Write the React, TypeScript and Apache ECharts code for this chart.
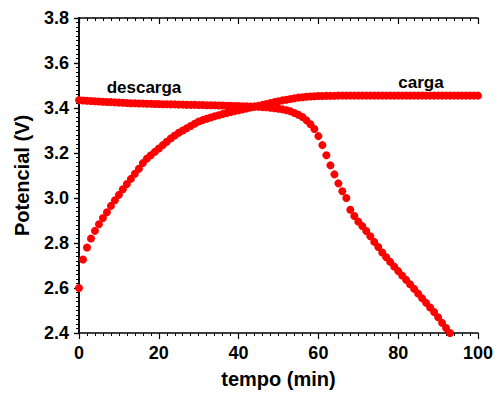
import React, { useEffect, useRef } from "react";
import * as echarts from "echarts";

const xTicks = [0, 20, 40, 60, 80, 100];
const yTicks = [2.4, 2.6, 2.8, 3.0, 3.2, 3.4, 3.6, 3.8];

// carga (charge) curve, one point per minute, t = 0..100
const cargaTime: number[] = [
  0, 1, 2, 3, 4, 5, 6, 7, 8, 9, 10, 11, 12, 13, 14, 15, 16, 17, 18, 19, 20,
  21, 22, 23, 24, 25, 26, 27, 28, 29, 30, 31, 32, 33, 34, 35, 36, 37, 38, 39, 40,
  41, 42, 43, 44, 45, 46, 47, 48, 49, 50, 51, 52, 53, 54, 55, 56, 57, 58, 59, 60,
  61, 62, 63, 64, 65, 66, 67, 68, 69, 70, 71, 72, 73, 74, 75, 76, 77, 78, 79, 80,
  81, 82, 83, 84, 85, 86, 87, 88, 89, 90, 91, 92, 93, 94, 95, 96, 97, 98, 99, 100,
];
const cargaV: number[] = [
  2.6, 2.727, 2.78, 2.82, 2.854, 2.883, 2.911, 2.937, 2.965, 2.99, 3.014,
  3.039, 3.062, 3.085, 3.108, 3.13, 3.155, 3.175, 3.19, 3.205, 3.22,
  3.235, 3.25, 3.265, 3.278, 3.29, 3.3, 3.31, 3.32, 3.33, 3.34,
  3.346, 3.352, 3.358, 3.363, 3.368, 3.373, 3.378, 3.382, 3.386, 3.39,
  3.394, 3.398, 3.402, 3.406, 3.41, 3.414, 3.418, 3.422, 3.426, 3.43,
  3.434, 3.437, 3.44, 3.443, 3.446, 3.448, 3.45, 3.451, 3.452, 3.453,
  3.453, 3.454, 3.454, 3.454, 3.455, 3.455, 3.455, 3.455, 3.455, 3.455,
  3.455, 3.455, 3.455, 3.455, 3.455, 3.455, 3.455, 3.455, 3.455, 3.455,
  3.455, 3.455, 3.455, 3.455, 3.455, 3.455, 3.455, 3.455, 3.455, 3.455,
  3.455, 3.455, 3.455, 3.455, 3.455, 3.455, 3.455, 3.455, 3.455, 3.455,
];

// descarga (discharge) curve, one point per minute, t = 0..93
const descargaTime: number[] = [
  0, 1, 2, 3, 4, 5, 6, 7, 8, 9, 10, 11, 12, 13, 14, 15, 16, 17, 18, 19, 20,
  21, 22, 23, 24, 25, 26, 27, 28, 29, 30, 31, 32, 33, 34, 35, 36, 37, 38, 39, 40,
  41, 42, 43, 44, 45, 46, 47, 48, 49, 50, 51, 52, 53, 54, 55, 56, 57, 58, 59, 60,
  61, 62, 63, 64, 65, 66, 67, 68, 69, 70, 71, 72, 73, 74, 75, 76, 77, 78, 79, 80,
  81, 82, 83, 84, 85, 86, 87, 88, 89, 90, 91, 92, 93,
];
const descargaV: number[] = [
  3.435, 3.433, 3.432, 3.431, 3.43, 3.429, 3.428, 3.427, 3.426, 3.425, 3.424,
  3.423, 3.422, 3.421, 3.421, 3.42, 3.42, 3.419, 3.419, 3.418, 3.418,
  3.417, 3.417, 3.416, 3.416, 3.415, 3.415, 3.414, 3.414, 3.414, 3.413,
  3.413, 3.412, 3.412, 3.412, 3.411, 3.411, 3.41, 3.41, 3.409, 3.409,
  3.408, 3.408, 3.407, 3.406, 3.405, 3.404, 3.403, 3.401, 3.399, 3.397,
  3.394, 3.39, 3.385, 3.378, 3.37, 3.36, 3.345, 3.328, 3.307, 3.275,
  3.235, 3.19, 3.145, 3.105, 3.065, 3.03, 3.0, 2.948, 2.92, 2.895,
  2.875, 2.853, 2.83, 2.805, 2.782, 2.758, 2.737, 2.716, 2.695, 2.675,
  2.655, 2.636, 2.616, 2.596, 2.575, 2.554, 2.534, 2.513, 2.493, 2.47,
  2.445, 2.422, 2.4,
];

const FONT = 'Arial, "Liberation Sans", sans-serif';

export default function App() {
  const ref = useRef<HTMLDivElement>(null);
  useEffect(() => {
    if (!ref.current) return;
    const chart = echarts.init(ref.current, undefined, { renderer: "svg" });
    const xMin = xTicks[0];
    const xMax = xTicks[xTicks.length - 1];
    const xInt = xTicks[1] - xTicks[0];
    const yMin = yTicks[0];
    const yMax = yTicks[yTicks.length - 1];
    const yInt = 0.2;
    const lineStyle = { color: "#000", width: 1.5 };
    const baseX = {
      type: "value" as const,
      min: xMin,
      max: xMax,
      interval: xInt,
      splitLine: { show: false },
      axisLine: { show: true, lineStyle },
      minorTick: { show: true, splitNumber: 10, length: 3, lineStyle: { color: "#000", width: 1 } },
      minorSplitLine: { show: false },
    };
    const baseY = {
      type: "value" as const,
      min: yMin,
      max: yMax,
      interval: yInt,
      splitLine: { show: false },
      axisLine: { show: true, lineStyle },
      minorTick: { show: true, splitNumber: 10, length: 3, lineStyle: { color: "#000", width: 1 } },
      minorSplitLine: { show: false },
    };
    chart.setOption({
      animation: false,
      backgroundColor: "#fff",
      grid: { left: 79, right: 18, top: 18, bottom: 55, containLabel: false },
      xAxis: [
        {
          ...baseX,
          position: "bottom",
          name: "tempo (min)",
          nameLocation: "middle",
          nameGap: 36,
          nameTextStyle: { fontFamily: FONT, fontWeight: "bold", fontSize: 20, color: "#000" },
          axisTick: { show: true, inside: false, length: 6, lineStyle: { color: "#000", width: 1.2 } },
          axisLabel: {
            show: true,
            margin: 11,
            fontFamily: FONT,
            fontWeight: "bold",
            fontSize: 18,
            color: "#000",
            formatter: (v: number) => String(v),
          },
        },
        {
          ...baseX,
          position: "top",
          axisTick: { show: true, inside: true, length: 6, lineStyle: { color: "#000", width: 1.2 } },
          axisLabel: { show: false },
        },
      ],
      yAxis: [
        {
          ...baseY,
          position: "left",
          name: "Potencial (V)",
          nameLocation: "middle",
          nameGap: 47,
          nameRotate: 90,
          nameTextStyle: { fontFamily: FONT, fontWeight: "bold", fontSize: 20, color: "#000" },
          axisTick: { show: true, inside: false, length: 5, lineStyle: { color: "#000", width: 1.2 } },
          axisLabel: {
            show: true,
            margin: 10,
            fontFamily: FONT,
            fontWeight: "bold",
            fontSize: 18,
            color: "#000",
            formatter: (v: number) => v.toFixed(1),
          },
        },
        {
          ...baseY,
          position: "right",
          axisTick: { show: true, inside: true, length: 5, lineStyle: { color: "#000", width: 1.2 } },
          axisLabel: { show: false },
        },
      ],
      graphic: [
        {
          type: "text",
          x: 144,
          y: 87,
          style: {
            text: "descarga",
            font: `bold 17px ${FONT}`,
            fill: "#000",
            textAlign: "center",
            textVerticalAlign: "middle",
          },
        },
        {
          type: "text",
          x: 421,
          y: 82,
          style: {
            text: "carga",
            font: `bold 17px ${FONT}`,
            fill: "#000",
            textAlign: "center",
            textVerticalAlign: "middle",
          },
        },
      ],
      series: [
        {
          name: "carga",
          type: "scatter",
          xAxisIndex: 0,
          yAxisIndex: 0,
          symbol: "circle",
          symbolSize: 8,
          itemStyle: { color: "#ff0000", opacity: 1 },
          data: cargaTime.map((t, i) => [t, cargaV[i]]),
        },
        {
          name: "descarga",
          type: "scatter",
          xAxisIndex: 0,
          yAxisIndex: 0,
          symbol: "circle",
          symbolSize: 8,
          itemStyle: { color: "#ff0000", opacity: 1 },
          data: descargaTime.map((t, i) => [t, descargaV[i]]),
        },
      ],
    });
    return () => chart.dispose();
  }, []);
  return (
    <div
      ref={ref}
      style={{ position: "fixed", left: 0, top: 0, width: 496, height: 394, background: "#fff" }}
    />
  );
}
